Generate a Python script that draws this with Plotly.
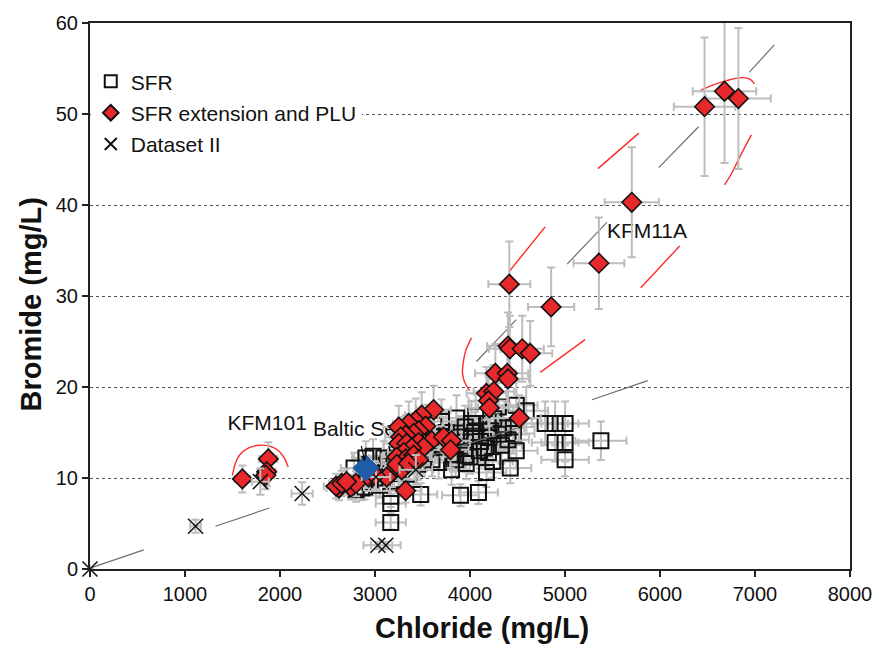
import plotly.graph_objects as go

# ---------------- data (Chloride mg/L, Bromide mg/L) ----------------
sfr_cl = [3858, 4015, 4190, 4299, 4487, 4592, 4791, 4896, 5001, 4896, 5001, 5001, 5378,
          4487, 4194, 4173, 4424, 4089, 3900, 3806, 4456, 4456, 3900, 3900, 3950, 4220,
          4110, 4015, 3166, 3166, 3166, 3481, 2904, 3093, 3302, 3355, 2800, 2860, 3600,
          3670, 3565, 3400, 3500, 4050, 4200, 4300, 4350, 4150, 3850, 3950, 3750, 4400,
          4250, 3000, 2950, 3050, 3250, 3450, 3550, 3800, 4100, 3350, 3150, 2779, 3701,
          4000, 3820, 3300, 3200, 2980, 4330, 3620, 3700, 4060, 3120, 3230, 3060, 2890,
          3520, 3960, 4240]
sfr_br = [16.6, 16.0, 16.0, 17.8, 18.0, 17.4, 16.0, 16.0, 16.0, 13.9, 13.9, 12.0, 14.1,
          13.0, 12.8, 10.6, 11.1, 8.4, 8.1, 10.9, 14.9, 15.6, 14.5, 13.5, 15.6, 15.2,
          14.0, 14.6, 8.0, 7.2, 5.1, 8.2, 12.2, 12.2, 11.8, 10.4, 8.7, 8.9, 12.0,
          11.7, 13.3, 13.0, 14.5, 15.0, 14.5, 14.8, 15.5, 13.3, 12.0, 12.5, 15.0, 14.2,
          16.5, 10.0, 9.5, 9.2, 9.8, 11.5, 13.2, 13.8, 13.0, 14.8, 10.5, 11.1, 14.5,
          12.3, 12.6, 12.0, 11.9, 12.4, 13.6, 15.8, 16.2, 16.8, 11.4, 12.6, 10.8, 9.0,
          12.7, 11.6, 11.8]

plu_cl = [1604, 1877, 1860, 1850, 6469, 6679, 6825, 5703, 5357, 4854, 4414, 4400, 4420,
          4550, 4634, 4267, 4393, 4400, 4173, 4250, 4194, 4204, 4519, 3617, 3323,
          3491, 3428, 3355, 3250, 3533, 3460, 3407, 3323, 3271, 3250, 3334, 3460, 3596,
          3512, 3386, 3302, 3229, 3323, 3407, 3460, 3271, 3177, 3124, 3722, 3806, 3795,
          2621, 2747, 2590, 2650, 2800, 2936, 3000, 3281, 3230, 3350, 2700]
plu_br = [9.9, 12.1, 10.7, 10.3, 50.8, 52.5, 51.7, 40.3, 33.6, 28.8, 31.3, 24.5, 24.2,
          24.2, 23.7, 21.5, 21.5, 20.9, 19.3, 19.5, 18.5, 17.7, 16.6, 17.5, 8.6,
          16.9, 16.3, 16.0, 15.6, 15.7, 15.2, 14.9, 14.7, 14.5, 13.8, 13.8, 13.9, 14.1,
          13.4, 13.3, 12.8, 12.3, 12.1, 12.5, 12.0, 11.1, 10.6, 10.1, 14.5, 14.1, 13.1,
          8.9, 9.0, 9.1, 9.4, 9.4, 10.1, 10.3, 10.9, 11.5, 11.6, 9.6]

ds2_cl = [0, 1111, 1793, 2233, 3030, 3114, 3010, 3430]
ds2_br = [0, 4.7, 9.6, 8.3, 2.6, 2.6, 10.1, 10.9]

baltic_cl = [2904]
baltic_br = [11.1]

# decorative segments (data units), None separates pieces
gray_seg_cl = [0, 566, None, 1321, 1887, None, 2700, 4500, None, 3072, 3565, None,
               4068, 4487, None, 5284, 5871, None, 5022, 5441, None, 5987, 6406, None,
               6941, 7203]
gray_seg_br = [0.1, 2.1, None, 4.7, 6.7, None, 9.5, 15.5, None, 12.0, 16.7, None,
               22.8, 27.4, None, 18.6, 20.7, None, 33.5, 38.1, None, 44.1, 48.6, None,
               54.6, 57.6]

red_seg_cl = [1499, 1530, 1573, 1670, 1782, 1890, 1971, 2040, 2086, None,
              6427, 6560, 6710, 6867, 6950, 6993, None,
              6679, 6760, 6836, 6962, None,
              5347, 5777, None,
              5798, 6207, None,
              4414, 4791, None,
              4739, 5211, None,
              4016, 3955, 3932, 3921, 3945, 3995]
red_seg_br = [10.3, 11.6, 12.5, 13.3, 13.6, 13.5, 13.1, 12.3, 11.2, None,
              52.6, 53.2, 53.7, 54.0, 53.8, 53.3, None,
              42.2, 43.6, 45.2, 47.7, None,
              44.0, 47.9, None,
              30.9, 35.5, None,
              32.7, 37.6, None,
              21.6, 25.2, None,
              25.4, 24.0, 22.9, 21.5, 20.5, 19.6]

label_text = ["KFM101", "Baltic Sea", "KFM11A"]
label_cl = [1447, 2348, 5441]
label_br = [15.8, 15.2, 37.0]

x_ticks = [0, 1000, 2000, 3000, 4000, 5000, 6000, 7000, 8000]
y_ticks = [0, 10, 20, 30, 40, 50, 60]

# ---------------- figure ----------------
FONT = "Liberation Sans, Arial, sans-serif"
ebar_x = dict(type="percent", value=5, color="#bdbdbd", thickness=2, width=4)
ebar_y = dict(type="percent", value=15, color="#bdbdbd", thickness=2, width=4)

fig = go.Figure()

fig.add_trace(go.Scatter(x=label_cl, y=label_br, text=label_text, mode="text",
                         textposition="middle right",
                         textfont=dict(family=FONT, size=21, color="#111"),
                         showlegend=False, hoverinfo="skip", cliponaxis=False))

fig.add_trace(go.Scatter(x=sfr_cl, y=sfr_br, mode="markers", name="SFR",
                         marker=dict(symbol="square", size=15, color="rgba(255,255,255,0)",
                                     line=dict(color="#111", width=2)),
                         error_x=ebar_x, error_y=ebar_y, legendgroup="a", legendrank=1))

fig.add_trace(go.Scatter(x=gray_seg_cl, y=gray_seg_br, mode="lines",
                         line=dict(color="#6e6e6e", width=1.2), showlegend=False,
                         hoverinfo="skip", connectgaps=False))
fig.add_trace(go.Scatter(x=red_seg_cl, y=red_seg_br, mode="lines",
                         line=dict(color="#ff2a2a", width=1.4, shape="spline"),
                         showlegend=False, hoverinfo="skip", connectgaps=False))

fig.add_trace(go.Scatter(x=plu_cl, y=plu_br, mode="markers", name="SFR extension and PLU",
                         marker=dict(symbol="diamond", size=15, color="#e8282a",
                                     line=dict(color="#111", width=1.6)),
                         error_x=ebar_x, error_y=ebar_y, legendgroup="b", legendrank=2,
                         cliponaxis=False))

fig.add_trace(go.Scatter(x=ds2_cl, y=ds2_br, mode="markers", name="Dataset II",
                         marker=dict(symbol="x-thin", size=15, color="#111",
                                     line=dict(color="#111", width=1.5)),
                         error_x=ebar_x, error_y=ebar_y, legendgroup="c", legendrank=3,
                         cliponaxis=False))

fig.add_trace(go.Scatter(x=baltic_cl, y=baltic_br, mode="markers", showlegend=False,
                         marker=dict(symbol="diamond", size=20, color="#1f5ca8",
                                     line=dict(color="#1f5ca8", width=1))))

fig.add_annotation(x=2894, y=11.8, ax=2852, ay=13.7, axref="x", ayref="y",
                   xref="x", yref="y", text="", showarrow=True, arrowhead=2,
                   arrowsize=1, arrowwidth=1.2, arrowcolor="#111")

# axis titles as annotations for exact placement
fig.add_annotation(text="<b>Chloride (mg/L)</b>", xref="paper", yref="paper",
                   x=0.516, y=-0.108, xanchor="center", yanchor="middle", showarrow=False,
                   font=dict(family=FONT, size=29, color="#111"))
fig.add_annotation(text="<b>Bromide (mg/L)</b>", xref="paper", yref="paper",
                   x=-0.078, y=0.484, xanchor="center", yanchor="middle", showarrow=False,
                   textangle=-90, font=dict(family=FONT, size=29, color="#111"))

fig.update_layout(
    width=884, height=648,
    margin=dict(l=90, r=30, t=22, b=79),
    paper_bgcolor="white", plot_bgcolor="white",
    font=dict(family=FONT, size=20, color="#111"),
    showlegend=True,
    legend=dict(x=0.001, y=0.93, xanchor="left", yanchor="top",
                bgcolor="white", borderwidth=0, font=dict(family=FONT, size=21, color="#111"),
                itemsizing="constant", traceorder="grouped", tracegroupgap=1),
    xaxis=dict(range=[0, 8000], tickvals=x_ticks, ticks="outside", ticklen=6,
               tickwidth=1.5, tickcolor="#222", showgrid=False, zeroline=False,
               showline=True, linecolor="#222", linewidth=2, mirror=True,
               tickfont=dict(family=FONT, size=20, color="#111")),
    yaxis=dict(range=[0, 60], tickvals=y_ticks, ticks="outside", ticklen=6,
               tickwidth=1.5, tickcolor="#222", showgrid=True, gridcolor="#555",
               griddash="dot", gridwidth=1, zeroline=False,
               showline=True, linecolor="#222", linewidth=2, mirror=True,
               tickfont=dict(family=FONT, size=20, color="#111")),
)

fig.write_html("out.html")
